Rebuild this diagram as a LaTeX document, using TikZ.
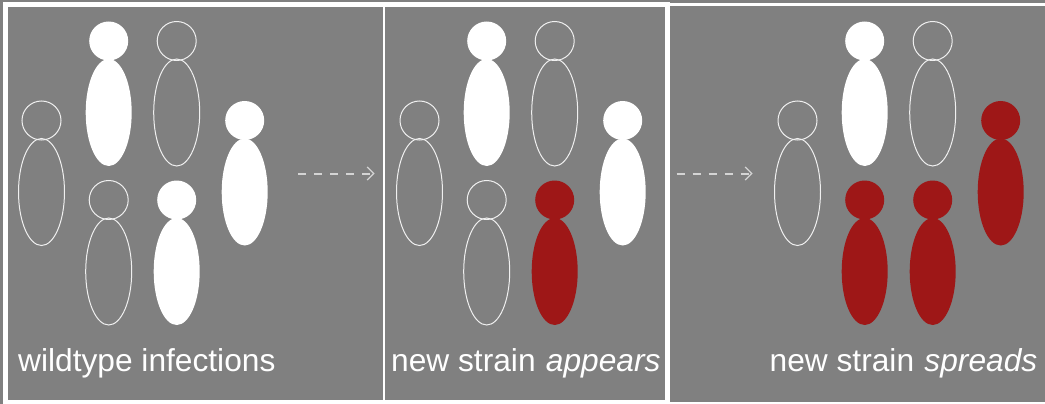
\documentclass[tikz,border=0pt]{standalone}
\usepackage{fontspec}
\setmainfont{Liberation Sans}
\usetikzlibrary{shapes.geometric,arrows.meta}
\definecolor{panelgray}{HTML}{808080}
\definecolor{strain}{HTML}{9E1717}
\definecolor{arrowgray}{HTML}{D4D4D4}
\tikzset{
  x=1pt,y=-1pt,
  panel/.style={fill=panelgray,draw=none},
  headbase/.style={circle,inner sep=0pt,outer sep=0pt,minimum size=39pt},
  bodybase/.style={ellipse,inner sep=0pt,outer sep=0pt,minimum width=46pt,minimum height=107pt},
  empty/.style={draw=white!88!panelgray,line width=1pt,fill=none},
  wild/.style={fill=white,draw=none},
  mutant/.style={fill=strain,draw=none},
  caption/.style={anchor=base west,inner sep=0pt,text=white,font=\fontsize{31.7}{34}\selectfont},
  spread/.style={draw=arrowgray,line width=2pt,dash pattern=on 8pt off 8pt,-{Straight Barb[length=6.5pt,width=13pt,line width=1.2pt]}}
}
\newcommand{\person}[4]{%
  \node[headbase,#4] (#1h) at (#2,#3) {};
  \node[bodybase,#4] (#1b) at (#2,#3+71.5) {};}
\newcommand{\crowd}[7]{%
  \person{#1a}{#2+41.5}{120.5}{#3}
  \person{#1b}{#2+108.7}{41}{#4}
  \person{#1c}{#2+176.7}{41}{#5}
  \person{#1d}{#2+244.7}{120.5}{#6}
  \person{#1e}{#2+108.7}{200}{#5}
  \person{#1f}{#2+176.7}{200}{#7}}
\begin{document}
\begin{tikzpicture}
\useasboundingbox (0,0) rectangle (1045,404);
\fill[white] (0,0) rectangle (1045,404);
\fill[panel] (0,0) rectangle (2.7,404);
\fill[panel] (0,0) rectangle (670,2);
\fill[panel] (670,0) rectangle (1045,3.5);
\fill[panel] (8,7.5) rectangle (382.5,400);
\fill[panel] (384.5,7.5) rectangle (664.5,400);
\fill[panel] (669.5,6.5) rectangle (1045,401.5);
\crowd{p}{0}{empty}{wild}{empty}{wild}{wild}
\crowd{q}{378}{empty}{wild}{empty}{wild}{mutant}
\person{ra}{797.5}{120.5}{empty}
\person{rb}{864.7}{41}{wild}
\person{rc}{932.7}{41}{empty}
\person{rd}{1000.7}{120.5}{mutant}
\person{re}{864.7}{200}{mutant}
\person{rf}{932.7}{200}{mutant}
\coordinate (a1s) at (298,173.5);
\coordinate (a1e) at (374.5,173.5);
\coordinate (a2s) at (676.5,173.5);
\coordinate (a2e) at (752.5,173.5);
\draw[spread] (a1s) -- (a1e);
\draw[spread] (a2s) -- (a2e);
\node[caption] (c1) at (18,371.5) {wildtype infections};
\node[caption] (c2) at (391,371.5) {new strain\hspace{1.5pt} \textit{appears}};
\node[caption] (c3) at (769.5,371.5) {new strain\hspace{1.5pt} \textit{spreads}};
\end{tikzpicture}
\end{document}
